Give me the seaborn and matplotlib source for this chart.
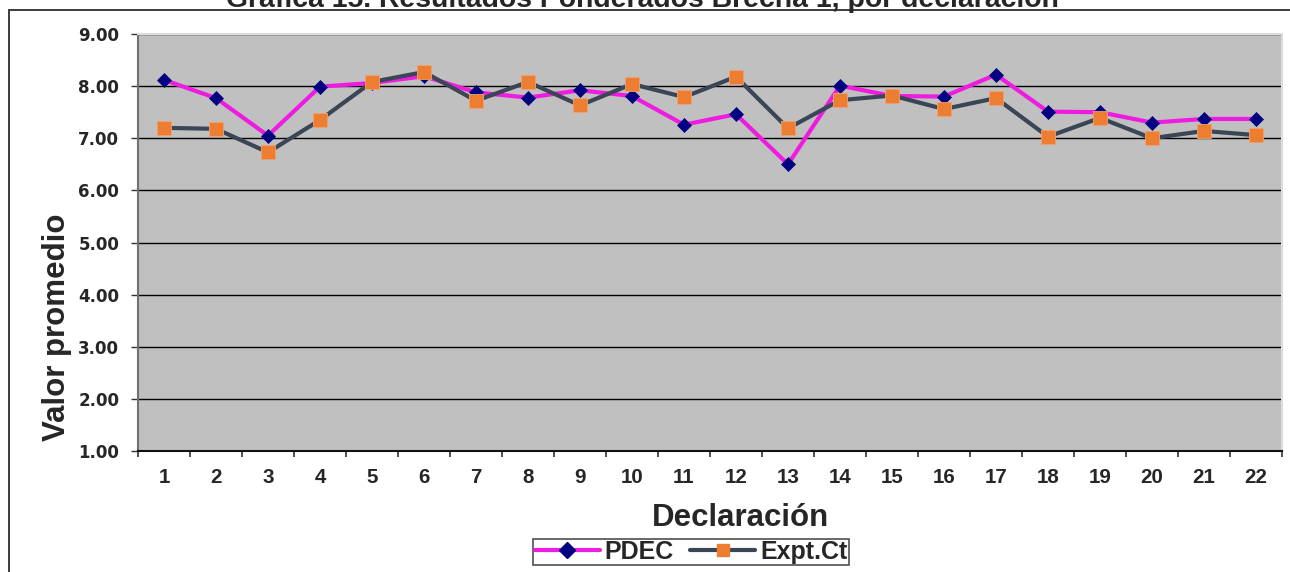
import numpy as np
import pandas as pd
import matplotlib
matplotlib.use("Agg")
import matplotlib.pyplot as plt
from matplotlib.patches import Rectangle
from matplotlib.lines import Line2D
from matplotlib.ticker import FixedLocator, NullFormatter, FixedFormatter
import seaborn as sns

# Average weighted score per statement for the two groups
declaraciones = list(range(1, 23))
pdec = [8.12, 7.77, 7.05, 7.99, 8.06, 8.19, 7.88, 7.78, 7.92, 7.81, 7.26,
        7.46, 6.50, 8.01, 7.81, 7.80, 8.22, 7.51, 7.50, 7.30, 7.37, 7.37]
expt_ct = [7.20, 7.18, 6.73, 7.35, 8.08, 8.27, 7.72, 8.08, 7.63, 8.04, 7.79,
           8.18, 7.19, 7.73, 7.82, 7.56, 7.77, 7.03, 7.39, 7.00, 7.14, 7.06]
y_ticks = [1, 2, 3, 4, 5, 6, 7, 8, 9]

titulo = "Gráfica 15. Resultados Ponderados Brecha 1, por declaración"

sns.set_style("white")
plt.rcParams["font.family"] = ["Liberation Sans", "DejaVu Sans"]
plt.rcParams["font.weight"] = "bold"

df = pd.DataFrame({
    "Declaración": declaraciones * 2,
    "Valor": pdec + expt_ct,
    "Serie": ["PDEC"] * len(pdec) + ["Expt.Ct"] * len(expt_ct),
})

W, H = 1290, 572
fig = plt.figure(figsize=(W / 100, H / 100), dpi=100)
ax = fig.add_axes([138 / W, 1 - 451 / H, (1282 - 138) / W, (451 - 34) / H])
ax.set_facecolor("#C0C0C0")

c_pdec, c_pdec_mk = "#EE1CE0", "#000080"
c_expt, c_expt_mk = "#3A4555", "#ED7D31"

sns.lineplot(data=df[df.Serie == "PDEC"], x="Declaración", y="Valor", ax=ax,
             color=c_pdec, lw=3.0, marker="D", markersize=7.2,
             markerfacecolor=c_pdec_mk, markeredgecolor=c_pdec_mk,
             markeredgewidth=0.5, zorder=3, legend=False)
sns.lineplot(data=df[df.Serie == "Expt.Ct"], x="Declaración", y="Valor", ax=ax,
             color=c_expt, lw=3.0, marker="s", markersize=10.5,
             markerfacecolor=c_expt_mk, markeredgecolor="#F2A070",
             markeredgewidth=0.6, zorder=4, legend=False)

ax.set_xlim(0.5, 22.5)
ax.set_ylim(1, 9)
ax.set_yticks(y_ticks)
ax.set_yticklabels([f"{v:.2f}" for v in y_ticks])
ax.yaxis.grid(True, color="black", lw=1.0)
ax.set_axisbelow(True)

# category ticks sit on the boundaries, labels in the middle of each slot
ax.xaxis.set_major_locator(FixedLocator(np.arange(0.5, 23, 1)))
ax.xaxis.set_major_formatter(NullFormatter())
ax.xaxis.set_minor_locator(FixedLocator(declaraciones))
ax.xaxis.set_minor_formatter(FixedFormatter([str(d) for d in declaraciones]))
ax.tick_params(axis="x", which="major", length=4.5, width=1.2, color="#333333",
               direction="out", bottom=True)
ax.tick_params(axis="x", which="minor", length=0, pad=12, labelsize=14.8)
ax.tick_params(axis="y", length=5, width=1.0, color="#333333", direction="out",
               left=True, pad=8.5, labelsize=12)
for lab in ax.get_xticklabels(minor=True):
    lab.set_fontweight("bold")
for lab in ax.get_yticklabels():
    lab.set_fontweight("bold")
    lab.set_family(["DejaVu Sans"])

ax.set_xlabel("")
ax.set_ylabel("")
for side in ("top", "right"):
    ax.spines[side].set_color("#DCDCDC")
    ax.spines[side].set_linewidth(1.5)
ax.spines["left"].set_color("#707070")
ax.spines["left"].set_linewidth(1.5)
ax.spines["bottom"].set_color("#111111")
ax.spines["bottom"].set_linewidth(1.5)

fig.text(57 / W, 1 - 327 / H, "Valor promedio", rotation=90, ha="center",
         va="center", fontsize=22.5, fontweight="bold")
fig.text(740 / W, 1 - 518 / H, "Declaración", ha="center", va="center",
         fontsize=22.5, fontweight="bold")
fig.text(642 / W, 1 - 7 / H, titulo, ha="center", va="baseline",
         fontsize=20.4, fontweight="bold")

handles = [
    Line2D([], [], color=c_pdec, lw=3.0, marker="D", markersize=8,
           markerfacecolor=c_pdec_mk, markeredgecolor=c_pdec_mk),
    Line2D([], [], color=c_expt, lw=3.0, marker="s", markersize=9,
           markerfacecolor=c_expt_mk, markeredgecolor=c_expt_mk),
]
leg = fig.legend(handles, ["PDEC", "Expt.Ct"], loc="center",
                 bbox_to_anchor=(691 / W, 1 - 552 / H), ncol=2,
                 prop={"size": 18, "weight": "bold"}, frameon=True,
                 fancybox=False, handlelength=2.6, handletextpad=0.2,
                 columnspacing=0.65, borderpad=0.05, borderaxespad=0)
leg.get_frame().set_edgecolor("#222222")
leg.get_frame().set_linewidth(1.2)

# outer chart frame (its right and bottom edges run off the canvas)
fig.add_artist(Rectangle((9 / W, -0.2), 1.5, (1 - 10 / H) + 0.2,
                         transform=fig.transFigure, fill=False,
                         ec="#3C3C3C", lw=1.4))

fig.savefig("out.png", dpi=100)
